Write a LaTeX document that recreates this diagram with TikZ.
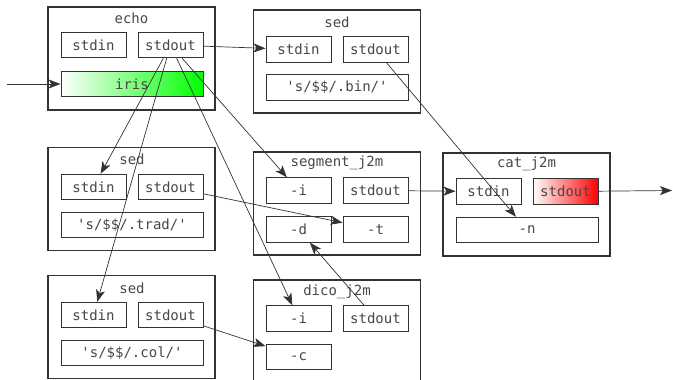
\documentclass[tikz,border=0pt]{standalone}
\usepackage{fontspec}
\setmonofont{DejaVu Sans Mono}
\usetikzlibrary{arrows.meta}
\definecolor{ink}{HTML}{333333}

\begin{document}
\begin{tikzpicture}[x=1pt, y=-1pt, font=\ttfamily\fontsize{14pt}{16pt}\selectfont,
  proc/.style={rectangle, draw=ink, line width=1.2pt, minimum width=167pt, minimum height=103pt, inner sep=0pt},
  title/.style={text=ink!90, inner sep=0pt},
  port/.style={rectangle, draw=ink, line width=0.9pt, fill=white, text=ink!90, minimum width=65pt, minimum height=25.5pt, inner sep=0pt},
  arg/.style={port, minimum width=142pt},
  flow/.style={draw=ink, line width=0.7pt, -{Stealth[length=12pt, width=9pt, inset=3pt]}}]
\useasboundingbox (0,0) rectangle (673,380);
\begin{scope}
\clip (0,0) rectangle (673,380);
% echo
\node [proc] (echo) at (131.5,58.5) {};
\node [title] (echoT) at (131.5,18) {echo};
\node [port] (echoIn) at (93.5,45) {stdin};
\node [port] (echoOut) at (170.5,45) {stdout};
\node [arg, left color=white, right color=green] (iris) at (132,84) {iris};
% sed .bin
\node [proc] (sedA) at (337,61.5) {};
\node [title] (sedAT) at (337,22) {sed};
\node [port] (sedAIn) at (298.5,49.5) {stdin};
\node [port] (sedAOut) at (375.5,49.5) {stdout};
\node [arg] (sedAArg) at (337,87.5) {'s/\$\$/.bin/'};
% sed .trad
\node [proc] (sedB) at (131.5,199) {};
\node [title] (sedBT) at (132,159) {sed};
\node [port] (sedBIn) at (93.5,187) {stdin};
\node [port] (sedBOut) at (170.5,187) {stdout};
\node [arg] (sedBArg) at (132,225) {'s/\$\$/.trad/'};
% sed .col
\node [proc] (sedC) at (131.5,327) {};
\node [title] (sedCT) at (132,288) {sed};
\node [port] (sedCIn) at (93.5,315) {stdin};
\node [port] (sedCOut) at (170.5,315) {stdout};
\node [arg] (sedCArg) at (132,353) {'s/\$\$/.col/'};
% segment_j2m
\node [proc] (seg) at (337,203.5) {};
\node [title] (segT) at (337,163) {segment\_j2m};
\node [port] (segI) at (298.5,190.5) {-i};
\node [port] (segOut) at (375.5,190.5) {stdout};
\node [port] (segD) at (298.5,229.5) {-d};
\node [port] (segT2) at (375.5,229.5) {-t};
% cat_j2m
\node [proc] (cat) at (526.5,204.5) {};
\node [title] (catT) at (526.5,164) {cat\_j2m};
\node [port] (catIn) at (488.5,191.5) {stdin};
\node [port, left color=white, right color=red] (catOut) at (565.5,191.5) {stdout};
\node [arg] (catN) at (527,230) {-n};
% dico_j2m
\node [proc] (dico) at (337,331.5) {};
\node [title] (dicoT) at (337,292) {dico\_j2m};
\node [port] (dicoI) at (298.5,318.5) {-i};
\node [port] (dicoOut) at (375.5,318.5) {stdout};
\node [port] (dicoC) at (298.5,357) {-c};

\coordinate (src) at (7,84);
\coordinate (sink) at (672,190.5);

\draw [flow] (src) -- (iris);
\draw [flow] (echoOut) -- (sedAIn);
\draw [flow] (echoOut) -- (sedBIn);
\draw [flow] (echoOut) -- (sedCIn);
\draw [flow] (echoOut) -- (segI);
\draw [flow] (echoOut) -- (dicoI);
\draw [flow] (sedAOut) -- (catN);
\draw [flow] (sedBOut) -- (segT2);
\draw [flow] (sedCOut) -- (dicoC);
\draw [flow] (dicoOut) -- (segD);
\draw [flow] (segOut) -- (catIn);
\draw [flow] (catOut) -- (sink);
\end{scope}
\end{tikzpicture}
\end{document}
